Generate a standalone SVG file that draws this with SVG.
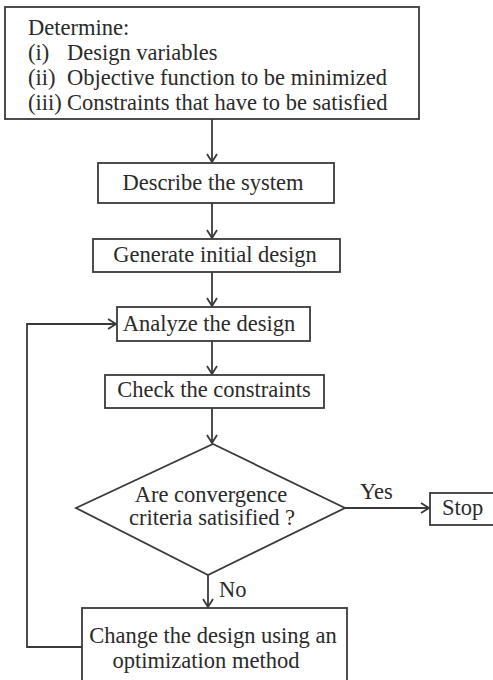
<svg xmlns="http://www.w3.org/2000/svg" width="493" height="680" viewBox="0 0 493 680">
  <defs>
    <style>
      .box { fill: #fff; stroke: #3a3a3a; stroke-width: 1.8; }
      .line { fill: none; stroke: #3a3a3a; stroke-width: 1.8; }
      text { font-family: "Liberation Serif", "Times New Roman", serif; font-size: 22.5px; fill: #2a2a2a; }
      .c { text-anchor: middle; }
    </style>
    <marker id="arrow" viewBox="0 0 10 12" refX="9" refY="6" markerWidth="10" markerHeight="12" markerUnits="userSpaceOnUse" orient="auto">
      <path d="M1,1 L9,6 L1,11" fill="none" stroke="#3a3a3a" stroke-width="1.8"/>
    </marker>
  </defs>

  <rect width="493" height="680" fill="#fff"/>

  <!-- connectors -->
  <g id="connectors">
    <line class="line" x1="212" y1="119" x2="212" y2="162" marker-end="url(#arrow)"/>
    <line class="line" x1="212" y1="203" x2="212" y2="238" marker-end="url(#arrow)"/>
    <line class="line" x1="212" y1="272" x2="212" y2="306" marker-end="url(#arrow)"/>
    <line class="line" x1="212" y1="341" x2="212" y2="374" marker-end="url(#arrow)"/>
    <line class="line" x1="212" y1="408" x2="212" y2="443" marker-end="url(#arrow)"/>
    <line class="line" x1="345" y1="508" x2="429" y2="508" marker-end="url(#arrow)"/>
    <line class="line" x1="208" y1="575" x2="208" y2="607" marker-end="url(#arrow)"/>
    <polyline class="line" points="82,647 27,647 27,324 116,324" marker-end="url(#arrow)"/>
    <text x="360" y="499">Yes</text>
    <text x="219" y="597">No</text>
  </g>

  <g id="determine">
    <rect class="box" x="5" y="7" width="414" height="112"/>
    <text x="28" y="35">Determine:</text>
    <text x="28" y="60">(i)</text><text x="67" y="60">Design variables</text>
    <text x="28" y="85">(ii)</text><text x="67" y="85">Objective function to be minimized</text>
    <text x="28" y="110">(iii)</text><text x="67" y="110">Constraints that have to be satisfied</text>
  </g>

  <g id="describe">
    <rect class="box" x="98" y="163" width="236" height="40"/>
    <text class="c" x="213" y="190">Describe the system</text>
  </g>

  <g id="generate">
    <rect class="box" x="93" y="239" width="247" height="33"/>
    <text class="c" x="215" y="262">Generate initial design</text>
  </g>

  <g id="analyze">
    <rect class="box" x="117" y="307" width="193" height="34"/>
    <text class="c" x="209" y="331">Analyze the design</text>
  </g>

  <g id="check">
    <rect class="box" x="105" y="375" width="219" height="33"/>
    <text class="c" x="214" y="397">Check the constraints</text>
  </g>

  <g id="converged">
    <polygon class="box" points="213,444 345,508 208,575 76,508"/>
    <text class="c" x="211" y="502">Are convergence</text>
    <text class="c" x="212" y="525">criteria satisified ?</text>
  </g>

  <g id="stop">
    <rect class="box" x="430" y="493" width="70" height="32"/>
    <text x="442" y="515">Stop</text>
  </g>

  <g id="change">
    <rect class="box" x="82" y="608" width="265" height="80"/>
    <text class="c" x="213" y="643">Change the design using an</text>
    <text class="c" x="206" y="668">optimization method</text>
  </g>
</svg>
